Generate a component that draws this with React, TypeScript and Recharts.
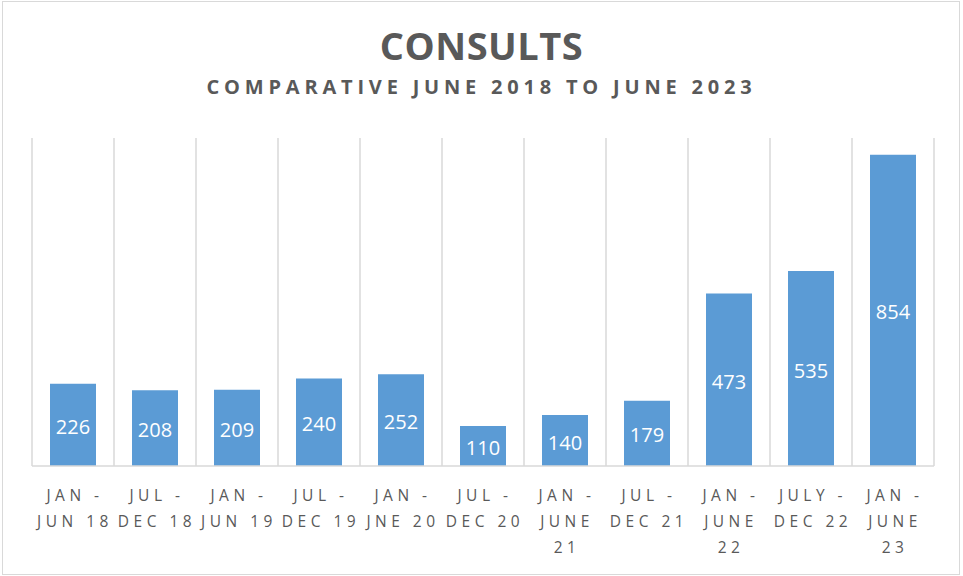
import { BarChart, Bar, XAxis, YAxis, CartesianGrid, LabelList } from "recharts";

const categories = [
  "JAN -\nJUN 18",
  "JUL -\nDEC 18",
  "JAN -\nJUN 19",
  "JUL -\nDEC 19",
  "JAN -\nJNE 20",
  "JUL -\nDEC 20",
  "JAN -\nJUNE\n21",
  "JUL -\nDEC 21",
  "JAN -\nJUNE\n22",
  "JULY -\nDEC 22",
  "JAN -\nJUNE\n23",
];

const consults = [226, 208, 209, 240, 252, 110, 140, 179, 473, 535, 854];

const data = categories.map((name, i) => ({ name, value: consults[i] }));

const FONT = "'Open Sans', sans-serif";
const GREY = "#595959";

function MultiLineTick({ x, y, payload }: any) {
  const lines = String(payload.value).split("\n");
  return (
    <text
      x={x}
      y={y}
      textAnchor="middle"
      fill={GREY}
      fontFamily={FONT}
      fontSize={15.5}
      letterSpacing={4.5}
    >
      {lines.map((line, i) => (
        <tspan key={i} x={x + 2} y={y + 27 + i * 26}>
          {line}
        </tspan>
      ))}
    </text>
  );
}

export default function App() {
  return (
    <div
      style={{
        position: "absolute",
        left: 0,
        top: 0,
        width: 963,
        height: 576,
        background: "#fff",
        fontFamily: FONT,
      }}
    >
      <div
        style={{
          position: "absolute",
          left: 2,
          top: 1,
          width: 956,
          height: 572,
          border: "1px solid #d9d9d9",
        }}
      />
      <div
        style={{
          position: "absolute",
          top: 19,
          width: "100%",
          textAlign: "center",
          color: GREY,
          fontSize: 38,
          fontWeight: 700,
          letterSpacing: 0.5,
        }}
      >
        CONSULTS
      </div>
      <div
        style={{
          position: "absolute",
          top: 73,
          width: "100%",
          textAlign: "center",
          color: GREY,
          fontSize: 20,
          fontWeight: 700,
          letterSpacing: 4.8,
        }}
      >
        COMPARATIVE JUNE 2018 TO JUNE 2023
      </div>
      <BarChart
        width={963}
        height={576}
        data={data}
        margin={{ top: 138, right: 29, bottom: 0, left: 32 }}
        style={{ position: "absolute", left: 0, top: 0 }}
      >
        <CartesianGrid
          horizontal={false}
          stroke="#d9d9d9"
          strokeWidth={1.5}
          verticalCoordinatesGenerator={({ offset }: any) =>
            categories
              .map((_, i) => offset.left + (i * offset.width) / categories.length)
              .concat(offset.left + offset.width)
          }
        />
        <XAxis
          dataKey="name"
          height={110}
          interval={0}
          tickLine={false}
          axisLine={{ stroke: "#d9d9d9", strokeWidth: 1.5 }}
          tick={<MultiLineTick />}
        />
        <YAxis hide domain={[0, 900]} />
        <Bar dataKey="value" fill="#5b9bd5" barSize={46} isAnimationActive={false}>
          <LabelList
            dataKey="value"
            position="center"
            fill="#fff"
            fontFamily={FONT}
            fontSize={20}
            dy={2}
          />
        </Bar>
      </BarChart>
    </div>
  );
}
